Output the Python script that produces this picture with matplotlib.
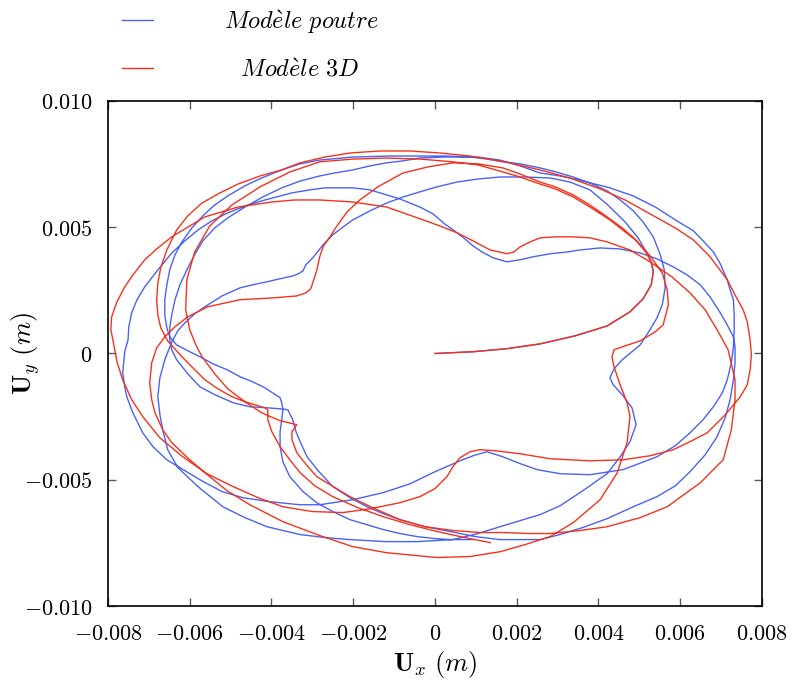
import numpy as np
import matplotlib
matplotlib.use("Agg")
import matplotlib.pyplot as plt

# Tip displacement, in millimetres
# Modele poutre (blue)
poutre_ux = [0.00, 0.93, 1.76, 2.57, 3.43, 4.21, 4.77, 5.09, 5.29, 5.34, 5.29, 5.17, 4.97, 4.65, 4.23, 3.79, 3.30, 2.82, 2.20, 1.59,
             1.05, 0.54, 0.05, -0.37, -0.78, -1.18, -1.59, -2.01, -2.25, -2.50, -2.74, -2.99, -3.16, -3.23, -3.35, -3.48, -3.79, -4.11, -4.46, -4.77,
             -5.21, -5.63, -5.88, -6.12, -6.29, -6.44, -6.61, -6.73, -6.78, -6.73, -6.66, -6.54, -6.29, -5.80, -5.19, -4.65, -4.11, -3.30, -2.69, -2.08,
             -1.22, -0.44, 0.44, 1.05, 1.59, 2.08, 2.57, 3.06, 3.62, 4.21, 4.53, 4.77, 4.92, 4.82, 4.58, 4.36, 4.28, 4.38, 4.58, 4.85,
             5.02, 5.26, 5.43, 5.56, 5.63, 5.61, 5.51, 5.34, 5.09, 4.85, 4.53, 4.21, 3.79, 3.38, 2.96, 2.57, 2.08, 1.66, 1.27, 0.86,
             0.24, -0.37, -0.78, -1.18, -1.59, -2.01, -2.45, -2.82, -3.30, -3.75, -4.21, -4.65, -5.07, -5.39, -5.68, -5.88, -6.07, -6.24, -6.36, -6.44,
             -6.49, -6.49, -6.44, -6.32, -6.05, -5.75, -5.39, -4.94, -4.53, -4.11, -3.79, -3.60, -3.48, -3.40, -3.30, -3.13, -2.86, -2.50, -2.08, -1.66,
             -1.27, -0.86, -0.24, 0.37, 0.98, 1.59, 2.08, 2.57, 3.06, 3.62, 4.21, 4.85, 5.43, 5.88, 6.24, 6.61, 6.90, 7.10, 7.22, 7.30,
             7.34, 7.34, 7.30, 7.15, 6.98, 6.73, 6.49, 6.17, 5.83, 5.43, 5.02, 4.53, 4.04, 3.55, 3.23, 2.82, 2.40, 2.08, 1.76, 1.42,
             1.15, 0.93, 0.73, 0.54, 0.24, -0.05, -0.37, -0.86, -1.18, -1.59, -2.01, -2.69, -3.06, -3.50, -4.16, -4.65, -5.07, -5.46, -5.80, -6.12,
             -6.44, -6.78, -7.10, -7.29, -7.42, -7.49, -7.51, -7.59, -7.64, -7.59, -7.54, -7.39, -7.15, -6.90, -6.56, -6.12, -5.75, -5.21, -4.70, -4.04,
             -3.30, -2.82, -2.50, -2.01, -1.27, -0.61, -0.05, 0.29, 0.61, 0.93, 1.27, 1.66, 2.08, 2.50, 3.06, 3.79, 4.60, 5.43, 5.88, 6.24,
             6.56, 6.81, 7.03, 7.15, 7.25, 7.30, 7.32, 7.32, 7.30, 7.22, 7.15, 6.98, 6.81, 6.56, 6.32, 5.88, 5.39, 4.85, 4.28, 3.62,
             3.06, 2.57, 2.08, 1.59, 1.05, 0.24, -0.37, -1.10, -2.01, -2.82, -3.30, -3.75, -4.24, -4.65, -5.07, -5.39, -5.68, -5.95, -6.19, -6.36,
             -6.49, -6.56, -6.61, -6.61, -6.56, -6.49, -6.32, -6.05, -5.75, -5.43, -5.09, -4.77, -4.46, -4.16, -3.97, -3.79, -3.75, -3.72, -3.75, -3.79,
             -3.79, -3.72, -3.55, -3.23, -2.89, -2.50, -2.08, -1.66, -1.27, -0.86, -0.44, 0.00, 0.37, 0.93]
poutre_uy = [0.00, 0.07, 0.19, 0.38, 0.70, 1.09, 1.65, 2.16, 2.72, 3.23, 3.63, 4.02, 4.58, 5.21, 5.88, 6.48, 6.79, 6.95, 6.99, 6.99,
             6.91, 6.79, 6.60, 6.40, 6.20, 5.96, 5.65, 5.29, 5.01, 4.70, 4.30, 3.79, 3.51, 3.27, 3.15, 3.07, 2.96, 2.84, 2.72, 2.60,
             2.28, 1.85, 1.57, 1.21, 0.90, 0.46, -0.25, -0.96, -1.71, -2.43, -3.02, -3.81, -4.52, -5.27, -6.07, -6.50, -6.86, -7.17, -7.29, -7.37,
             -7.45, -7.45, -7.37, -7.13, -6.86, -6.62, -6.38, -6.03, -5.43, -4.76, -4.09, -3.49, -2.82, -2.15, -1.63, -1.24, -0.96, -0.61, -0.25, 0.11,
             0.34, 0.94, 1.41, 1.93, 2.60, 3.31, 3.91, 4.62, 5.21, 5.65, 6.08, 6.44, 6.75, 6.99, 7.19, 7.35, 7.51, 7.59, 7.70, 7.78,
             7.78, 7.74, 7.63, 7.55, 7.43, 7.27, 7.15, 7.03, 6.83, 6.56, 6.20, 5.80, 5.37, 4.97, 4.46, 3.91, 3.31, 2.72, 2.13, 1.53,
             1.02, 0.54, 0.15, -0.25, -0.80, -1.32, -1.63, -1.95, -2.11, -2.15, -2.19, -2.23, -2.62, -3.10, -3.49, -4.09, -4.64, -5.27, -5.71, -6.07,
             -6.34, -6.58, -6.86, -7.05, -7.25, -7.37, -7.37, -7.37, -7.17, -6.89, -6.54, -6.07, -5.67, -5.24, -4.68, -4.01, -3.30, -2.54, -1.83, -1.04,
             -0.37, 0.26, 0.66, 1.13, 1.61, 2.24, 2.72, 3.11, 3.43, 3.75, 3.98, 4.14, 4.18, 4.10, 4.02, 3.95, 3.83, 3.71, 3.63, 3.79,
             4.02, 4.26, 4.54, 4.78, 5.13, 5.53, 5.80, 6.12, 6.28, 6.48, 6.56, 6.56, 6.48, 6.36, 6.08, 5.84, 5.57, 5.25, 4.89, 4.46,
             3.98, 3.31, 2.64, 2.13, 1.61, 1.06, 0.54, 0.07, -0.76, -1.32, -1.71, -2.35, -3.14, -3.69, -4.21, -4.64, -5.00, -5.47, -5.71, -5.87,
             -5.99, -5.99, -5.91, -5.79, -5.51, -5.16, -4.72, -4.48, -4.25, -4.05, -3.89, -4.09, -4.36, -4.60, -4.76, -4.80, -4.60, -4.09, -3.65, -3.14,
             -2.62, -2.11, -1.56, -1.04, -0.37, 0.26, 0.94, 1.53, 2.13, 2.52, 2.92, 3.55, 4.02, 4.46, 4.86, 5.29, 5.80, 6.24, 6.56, 6.83,
             7.03, 7.15, 7.43, 7.66, 7.78, 7.82, 7.82, 7.82, 7.78, 7.66, 7.51, 7.27, 6.95, 6.64, 6.24, 5.88, 5.45, 4.97, 4.42, 3.91,
             3.31, 2.72, 2.13, 1.53, 1.02, 0.66, 0.34, 0.11, -0.13, -0.41, -0.64, -0.92, -1.12, -1.36, -1.56, -1.75, -1.95, -2.23, -2.62, -3.10,
             -3.69, -4.29, -4.88, -5.47, -5.91, -6.26, -6.58, -6.78, -6.97, -7.13, -7.25, -7.33, -7.37, -7.37]

# Modele 3D (red)
model3d_ux = [0.00, 0.93, 1.76, 2.57, 3.43, 4.21, 4.77, 5.09, 5.29, 5.34, 5.29, 5.17, 4.94, 4.58, 4.21, 3.79, 3.38, 2.94, 2.57, 2.08,
              1.66, 1.05, 0.44, -0.17, -0.78, -1.40, -1.84, -2.15, -2.40, -2.57, -2.74, -2.82, -2.89, -2.99, -3.04, -3.16, -3.38, -3.97, -4.77, -5.56,
              -6.05, -6.36, -6.61, -6.81, -6.93, -6.98, -6.93, -6.85, -6.66, -6.44, -6.00, -5.63, -5.09, -4.53, -3.72, -2.82, -2.01, -1.18, 0.05, 0.86,
              1.59, 2.20, 2.82, 3.38, 4.04, 4.46, 4.70, 4.77, 4.70, 4.53, 4.38, 4.33, 4.38, 4.65, 5.02, 5.39, 5.58, 5.71, 5.68, 5.56,
              5.26, 4.90, 4.28, 3.79, 3.38, 2.94, 2.57, 2.08, 1.66, 1.05, 0.44, -0.37, -1.18, -2.01, -2.82, -3.55, -4.28, -4.97, -5.51, -5.88,
              -6.07, -6.10, -6.00, -5.85, -5.70, -5.39, -5.07, -4.65, -4.24, -3.79, -3.38, -3.50, -3.50, -3.38, -3.13, -2.89, -2.45, -2.08, -1.47, -0.86,
              -0.24, 0.44, 1.10, 1.66, 2.33, 2.82, 3.55, 4.21, 5.02, 5.68, 6.49, 7.05, 7.25, 7.34, 7.34, 7.17, 6.90, 6.61, 6.24, 5.80,
              5.26, 4.77, 4.21, 3.79, 3.38, 2.94, 2.57, 2.33, 2.08, 1.93, 1.76, 1.35, 0.93, 0.54, 0.12, -0.29, -1.18, -2.01, -2.82, -3.43,
              -3.99, -4.82, -5.63, -6.12, -6.44, -6.81, -7.10, -7.39, -7.59, -7.78, -7.91, -7.93, -7.88, -7.78, -7.64, -7.42, -7.15, -6.73, -6.17, -5.58,
              -4.94, -4.33, -3.72, -2.99, -2.25, -1.59, -0.86, -0.37, 0.00, 0.29, 0.44, 0.61, 0.86, 1.10, 1.47, 2.08, 2.82, 3.79, 4.60, 5.26,
              5.83, 6.24, 6.66, 7.10, 7.47, 7.64, 7.71, 7.74, 7.71, 7.64, 7.54, 7.34, 7.15, 6.73, 6.32, 5.88, 5.26, 4.65, 4.04, 3.30,
              2.57, 1.71, 0.86, 0.12, -0.61, -1.35, -2.08, -2.69, -3.30, -3.75, -4.28, -4.82, -5.26, -5.70, -6.05, -6.32, -6.56, -6.71, -6.78, -6.81,
              -6.78, -6.71, -6.54, -6.19, -5.88, -5.63, -5.31, -4.97, -4.65, -4.33, -4.16, -4.09, -4.09, -3.99, -3.79, -3.55, -3.30, -2.94, -2.50, -1.88,
              -1.27, -0.61, 0.05, 0.73, 1.35]
model3d_uy = [0.00, 0.07, 0.19, 0.38, 0.70, 1.09, 1.65, 2.16, 2.72, 3.23, 3.63, 3.98, 4.46, 4.97, 5.41, 5.88, 6.28, 6.60, 6.79, 7.11,
              7.35, 7.51, 7.55, 7.39, 7.15, 6.60, 6.08, 5.61, 5.05, 4.62, 4.22, 3.83, 3.31, 2.80, 2.56, 2.40, 2.28, 2.20, 2.13, 1.85,
              1.45, 1.06, 0.66, 0.22, -0.37, -1.16, -1.83, -2.35, -3.02, -3.53, -4.21, -4.72, -5.43, -5.99, -6.66, -7.21, -7.65, -7.89, -8.08, -8.04,
              -7.85, -7.57, -7.25, -6.70, -5.79, -4.72, -3.53, -2.50, -1.95, -1.24, -0.53, -0.13, 0.15, 0.30, 0.50, 0.86, 1.13, 1.93, 2.52, 3.19,
              3.87, 4.50, 5.29, 5.80, 6.20, 6.52, 6.71, 6.99, 7.19, 7.47, 7.59, 7.70, 7.74, 7.70, 7.59, 7.19, 6.60, 5.88, 5.05, 4.02,
              2.92, 1.73, 0.94, 0.34, -0.13, -0.80, -1.40, -1.91, -2.35, -2.66, -2.82, -3.10, -3.41, -3.93, -4.44, -4.88, -5.31, -5.67, -6.15, -6.58,
              -6.86, -7.01, -7.09, -7.09, -7.13, -7.13, -7.01, -6.86, -6.50, -6.07, -5.12, -4.21, -3.02, -1.83, -1.04, 0.15, 0.94, 1.73, 2.40, 3.03,
              3.63, 4.10, 4.42, 4.58, 4.62, 4.62, 4.58, 4.42, 4.22, 4.02, 3.95, 4.10, 4.46, 4.78, 5.05, 5.29, 5.80, 6.00, 6.08, 6.08,
              6.00, 5.80, 5.41, 4.93, 4.62, 4.14, 3.71, 3.11, 2.64, 2.05, 1.45, 0.94, 0.54, -0.33, -1.04, -1.83, -2.50, -3.34, -4.09, -4.76,
              -5.27, -5.71, -6.07, -6.26, -6.30, -6.15, -5.91, -5.67, -5.35, -4.88, -4.48, -4.13, -3.89, -3.81, -3.85, -3.97, -4.17, -4.25, -4.21, -4.05,
              -3.81, -3.49, -3.14, -2.43, -1.71, -1.24, -0.64, -0.05, 0.54, 1.25, 1.73, 2.32, 2.92, 3.83, 4.50, 4.97, 5.53, 6.08, 6.52, 6.95,
              7.27, 7.59, 7.82, 7.94, 8.02, 8.02, 7.94, 7.78, 7.55, 7.27, 7.03, 6.71, 6.36, 5.96, 5.45, 4.89, 4.10, 3.39, 2.80, 2.13,
              1.53, 1.02, 0.50, -0.13, -0.64, -1.04, -1.40, -1.71, -1.91, -2.07, -2.15, -2.23, -2.62, -3.10, -3.69, -4.21, -4.72, -5.24, -5.67, -6.11,
              -6.46, -6.78, -7.05, -7.29, -7.49]

xticks = [-0.008, -0.006, -0.004, -0.002, 0, 0.002, 0.004, 0.006, 0.008]
xtick_labels = ['$-0.008$', '$-0.006$', '$-0.004$', '$-0.002$', '$0$',
                '$0.002$', '$0.004$', '$0.006$', '$0.008$']
yticks = [-0.010, -0.005, 0, 0.005, 0.010]
ytick_labels = ['$-0.010$', '$-0.005$', '$0$', '$0.005$', '$0.010$']

plt.rcParams['mathtext.fontset'] = 'cm'
plt.rcParams['font.family'] = 'serif'

blue = '#4a62f2'
red = '#f4321c'

fig = plt.figure(figsize=(7.94, 6.86), dpi=100)
ax = fig.add_axes([0.136, 0.1166, 0.8237, 0.7362])

ax.plot(np.array(poutre_ux) * 1e-3, np.array(poutre_uy) * 1e-3, color=blue, lw=1.0,
        label=r'$Mod\grave{e}le\ poutre$')
ax.plot(np.array(model3d_ux) * 1e-3, np.array(model3d_uy) * 1e-3, color=red, lw=1.0,
        label=r'$\enspace\;Mod\grave{e}le\ 3D$')

ax.set_xlim(-0.008, 0.008)
ax.set_ylim(-0.010, 0.010)
ax.set_xticks(xticks)
ax.set_xticklabels(xtick_labels)
ax.set_yticks(yticks)
ax.set_yticklabels(ytick_labels)
ax.tick_params(direction='in', length=6, width=1, color='0.35',
               top=True, right=True, labelsize=16)
ax.tick_params(axis='x', pad=12)
ax.tick_params(axis='y', pad=11)
for s in ax.spines.values():
    s.set_linewidth(1.2)

ax.set_xlabel(r'$\mathbf{U}_x\ (m)$', fontsize=19)
ax.set_ylabel(r'$\mathbf{U}_y\ (m)$', fontsize=19)
ax.xaxis.set_label_coords(0.5, -0.085)
ax.yaxis.set_label_coords(-0.101, 0.5)

fig.legend(loc='upper left', bbox_to_anchor=(122 / 794, 1 - 8 / 686),
           frameon=False, fontsize=17.5, handlelength=1.28, handletextpad=2.9,
           labelspacing=0.95, borderpad=0, borderaxespad=0)

fig.savefig('out.png', dpi=100)
